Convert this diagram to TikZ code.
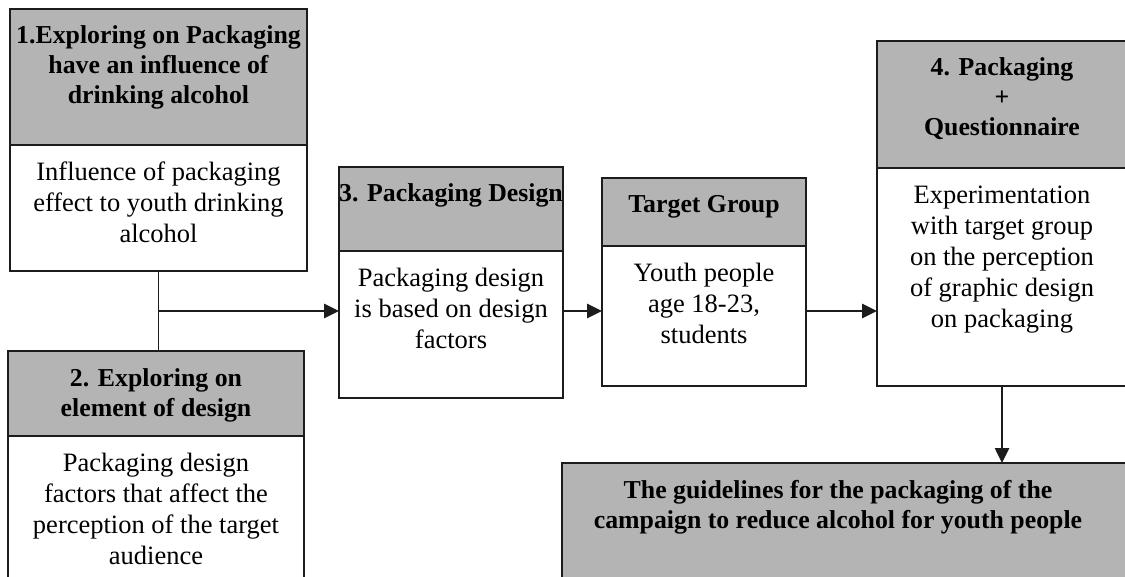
\documentclass[tikz,border=0pt]{standalone}
\usepackage{fontspec}
\setmainfont{Liberation Serif}
\usepackage{xcolor}
\usetikzlibrary{positioning, arrows.meta}
\definecolor{ink}{RGB}{28,28,28}
\definecolor{headgrey}{RGB}{180,180,180}
\newcommand{\headfont}{\fontsize{25.8}{30}\selectfont\bfseries}
\newcommand{\bodyfont}{\fontsize{26.5}{31}\selectfont}
% fixed-size cell, text hung from the top
\newcommand{\cell}[3]{\parbox[c][#2][t]{#1}{\centering\vspace*{14pt}\strut#3}}

\begin{document}
\begin{tikzpicture}[
    x=1pt, y=-1pt,
    head/.style={draw=ink, fill=headgrey, line width=1.6pt, inner sep=0pt,
                 outer sep=0pt, font=\headfont, text=black},
    body/.style={head, fill=white, font=\bodyfont},
    link/.style={draw=ink, line width=1.6pt},
    arrow/.style={draw=ink, line width=2.6pt, -{Triangle[length=15pt, width=14pt]}}
  ]
  \path[use as bounding box, fill=white] (0,0) rectangle (1125,577);
  \clip (0,0) rectangle (1125,577);

  \node[head, anchor=north west] (s1h) at (10,9)
    {\cell{297pt}{136pt}{1.Exploring on Packaging\\have an influence of\\drinking alcohol}};
  \node[body, below=0pt of s1h] (s1b)
    {\cell{297pt}{126pt}{Influence of packaging\\effect to youth drinking\\alcohol}};

  \node[head, anchor=north west] (s2h) at (8,351)
    {\cell{296pt}{85pt}{2. Exploring on\\element of design}};
  \node[body, below=0pt of s2h] (s2b)
    {\cell{296pt}{170pt}{Packaging design\\factors that affect the\\perception of the target\\audience}};

  \node[head, anchor=north west] (s3h) at (339,167)
    {\cell{224pt}{84pt}{3. Packaging Design}};
  \node[body, below=0pt of s3h] (s3b)
    {\cell{224pt}{147pt}{Packaging design\\is based on design\\factors}};

  \node[head, anchor=north west] (tgh) at (602,178)
    {\cell{204pt}{68pt}{Target Group}};
  \node[body, below=0pt of tgh] (tgb)
    {\cell{204pt}{140pt}{Youth people\\age 18-23,\\students}};

  \node[head, anchor=north west] (s4h) at (877,41)
    {\cell{250pt}{127pt}{4. Packaging\\+\\Questionnaire}};
  \node[body, below=0pt of s4h] (s4b)
    {\cell{250pt}{218pt}{Experimentation\\with target group\\on the perception\\of graphic design\\on packaging}};

  \node[head, anchor=north west] (guide) at (562,463)
    {\cell{600pt}{140pt}{\rightskip=48pt plus 1fil The guidelines for the packaging of the\\campaign to reduce alcohol for youth people}};

  \draw[link] (s1b.south) -- coordinate[pos=0.5] (fork) (s1b.south |- s2h.north);
  \draw[arrow] (fork) -- (fork -| s3b.west);
  \draw[arrow] (fork -| s3b.east) -- (fork -| tgb.west);
  \draw[arrow] (fork -| tgb.east) -- (fork -| s4b.west);
  \draw[arrow] (s4b.south) -- (s4b.south |- guide.north);
\end{tikzpicture}
\end{document}
